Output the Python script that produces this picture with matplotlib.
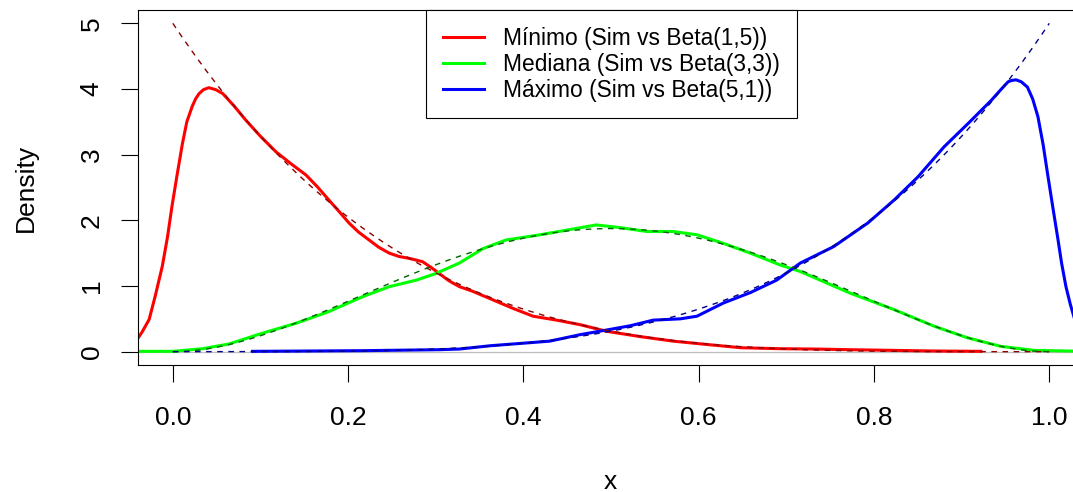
from math import lgamma

import numpy as np
import matplotlib.pyplot as plt

plt.rcParams['font.family'] = ['Liberation Sans', 'DejaVu Sans']

# densidades estimadas (kernel) de las simulaciones: minimo, mediana, maximo
x_min = [-0.042, -0.035, -0.027, -0.02, -0.012, -0.006, -0.001, 0.005, 0.011, 0.016,
         0.022, 0.026, 0.03, 0.035, 0.041, 0.049, 0.057, 0.07, 0.083, 0.1, 0.118, 0.135,
         0.152, 0.165, 0.178, 0.19, 0.201, 0.212, 0.224, 0.235, 0.247, 0.258,
         0.27, 0.285, 0.295, 0.304, 0.315, 0.327, 0.342, 0.365, 0.388, 0.411,
         0.438, 0.465, 0.495, 0.533, 0.571, 0.609, 0.648, 0.693, 0.733, 0.773,
         0.82, 0.87, 0.922]
d_min = [0.16, 0.3, 0.49, 0.85, 1.3, 1.75, 2.21, 2.7, 3.17, 3.5,
         3.73, 3.85, 3.93, 3.99, 4.02, 3.99, 3.93, 3.74, 3.53, 3.28, 3.04, 2.86,
         2.69, 2.51, 2.31, 2.13, 1.96, 1.82, 1.7, 1.59, 1.5, 1.45,
         1.42, 1.37, 1.28, 1.19, 1.08, 0.99, 0.92, 0.79, 0.66, 0.54,
         0.48, 0.41, 0.31, 0.23, 0.16, 0.11, 0.06, 0.045, 0.04, 0.03,
         0.02, 0.01, 0.005]

x_med = [-0.042, 0.0, 0.034, 0.064, 0.102, 0.14, 0.178, 0.217, 0.247, 0.278,
         0.3, 0.327, 0.354, 0.38, 0.419, 0.449, 0.483, 0.51, 0.541, 0.571,
         0.598, 0.628, 0.659, 0.693, 0.716, 0.773, 0.823, 0.869, 0.907, 0.945,
         0.983, 1.04]
d_med = [0.005, 0.005, 0.045, 0.117, 0.28, 0.43, 0.61, 0.84, 0.99, 1.09,
         1.19, 1.35, 1.57, 1.7, 1.78, 1.85, 1.93, 1.89, 1.83, 1.83,
         1.78, 1.65, 1.5, 1.32, 1.22, 0.89, 0.64, 0.385, 0.21, 0.08,
         0.02, 0.005]

x_max = [0.091, 0.216, 0.304, 0.327, 0.362, 0.43, 0.465, 0.495, 0.522, 0.548,
         0.579, 0.598, 0.628, 0.659, 0.689, 0.716, 0.754, 0.793, 0.823, 0.85,
         0.88, 0.907, 0.934, 0.944, 0.953, 0.957, 0.962, 0.968, 0.975, 0.981,
         0.987, 0.993, 0.998, 1.004, 1.01, 1.014, 1.019, 1.024, 1.029, 1.04]
d_max = [0.005, 0.015, 0.03, 0.04, 0.09, 0.16, 0.26, 0.33, 0.395, 0.48,
         0.5, 0.54, 0.74, 0.9, 1.09, 1.35, 1.6, 1.96, 2.31, 2.66,
         3.12, 3.47, 3.83, 3.98, 4.11, 4.13, 4.14, 4.11, 4.03, 3.85,
         3.58, 3.15, 2.71, 2.2, 1.7, 1.35, 0.99, 0.72, 0.49, 0.2]

# parametros de las Beta teoricas
beta_params = [(1, 5), (3, 3), (5, 1)]
labels = ["Mínimo (Sim vs Beta(1,5))",
          "Mediana (Sim vs Beta(3,3))",
          "Máximo (Sim vs Beta(5,1))"]
sim_colors = ["#FF0000", "#00FF00", "#0000FF"]
theo_colors = ["#8B0000", "#006400", "#00008B"]

x_ticks = [0.0, 0.2, 0.4, 0.6, 0.8, 1.0]
y_ticks = [0, 1, 2, 3, 4, 5]


def dbeta(x, a, b):
    const = np.exp(lgamma(a + b) - lgamma(a) - lgamma(b))
    return const * x ** (a - 1) * (1 - x) ** (b - 1)


W, H = 1073, 492
fig = plt.figure(figsize=(W / 100, H / 100), dpi=100)
left, right, top, bottom = 137.5, 1080, 10.2, 364.8
ax = fig.add_axes([left / W, 1 - bottom / H, (right - left) / W, (bottom - top) / H])

ax.axhline(0, color="#BEBEBE", lw=0.9, zorder=1)

sims = [(x_min, d_min), (x_med, d_med), (x_max, d_max)]
for (xs, ds), c, lab in zip(sims, sim_colors, labels):
    ax.plot(xs, ds, color=c, lw=2.2, label=lab, zorder=2)

grid = np.linspace(0, 1, 201)
for (a, b), c in zip(beta_params, theo_colors):
    ax.plot(grid, dbeta(grid, a, b), color=c, lw=1.0, dashes=(4, 4), zorder=3)

x0 = 172.8
px_per_unit = 876.5
ax.set_xlim((left - x0) / px_per_unit, (right - x0) / px_per_unit)
ax.set_ylim(-0.2, 5.2)

ax.set_xticks(x_ticks)
ax.set_xticklabels([f"{v:.1f}" for v in x_ticks])
ax.set_yticks(y_ticks)
ax.set_yticklabels([str(v) for v in y_ticks], rotation=90, va="center")
ax.tick_params(axis="both", direction="out", length=11.9, width=0.8, labelsize=19)
ax.tick_params(axis="x", pad=18)
ax.tick_params(axis="y", pad=12.5)
for s in ax.spines.values():
    s.set_linewidth(0.8)

fig.text(610.5 / W, 1 - 489 / H, "x", fontsize=19, ha="center", va="baseline")
fig.text(33 / W, 1 - 187.5 / H, "Density", fontsize=19, rotation=90,
         rotation_mode="anchor", ha="center", va="baseline")

leg = ax.legend(loc="upper center", bbox_to_anchor=((611.5 - left) / (right - left), 1.0),
                fontsize=16.4, frameon=True, fancybox=False, edgecolor="black",
                borderaxespad=0, borderpad=0.72, labelspacing=0.13,
                handlelength=1.8, handletextpad=0.85)
leg.get_frame().set_linewidth(0.8)
leg.get_frame().set_alpha(1)

fig.savefig("out.png", dpi=100)
